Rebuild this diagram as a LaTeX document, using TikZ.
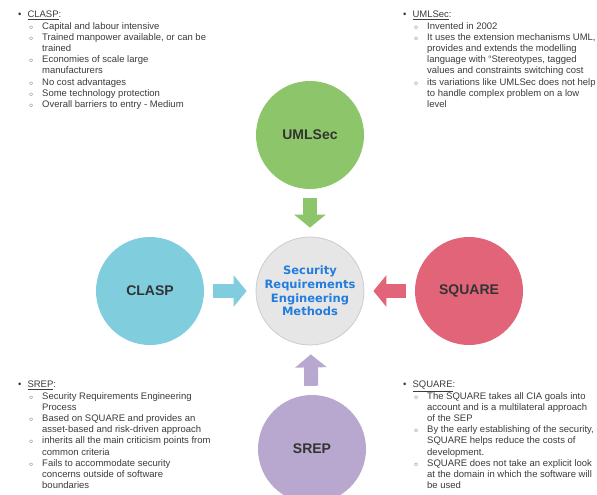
\documentclass[tikz,border=0pt]{standalone}
\usepackage{fontspec}
\setmainfont{Liberation Sans}
\newfontfamily\verdanafont{DejaVu Sans}
\usetikzlibrary{arrows.meta}

\definecolor{umlgreen}{RGB}{141,198,106}
\definecolor{claspblue}{RGB}{128,205,222}
\definecolor{squarered}{RGB}{226,100,120}
\definecolor{sreppurple}{RGB}{184,168,208}
\definecolor{hubgray}{RGB}{230,230,230}
\definecolor{hubtext}{RGB}{35,125,222}
\definecolor{notetext}{RGB}{60,60,60}

% bullets for the four notes
\newcommand{\topic}[1]{\textbullet\hspace{6pt}\underline{#1}:}
\newcommand{\subitm}{\\\hspace*{11pt}\makebox[13pt][l]{$\scriptstyle\circ$}}
\newcommand{\cont}{\\\hspace*{24pt}}

\begin{document}
\begin{tikzpicture}[x=1pt,y=-1pt,
    method/.style={circle, minimum size=108pt, inner sep=0pt,
        font=\fontsize{14}{16}\selectfont\bfseries, text=black!80},
    hub/.style={method, fill=hubgray, draw=black!20, line width=0.8pt,
        font=\verdanafont\fontsize{11.5}{13.8}\selectfont\bfseries, text=hubtext, align=center},
    note/.style={anchor=north west, inner sep=0pt, align=left, text=notetext,
        font=\fontsize{9.5}{11.2}\selectfont},
    blockarrow/.style={line width=14pt, -{Triangle[length=13pt,width=31pt]},
        shorten <=9pt, shorten >=9pt}]

\fill[white] (0,0) rectangle (597,495);
\useasboundingbox (0,0) rectangle (597,495);

% circles
\node[hub] (sre) at (310,291) {Security\\Requirements\\Engineering\\Methods};
\node[method, fill=umlgreen] (umlsec) at (310,135) {UMLSec};
\node[method, fill=claspblue] (clasp) at (150,291) {CLASP};
\node[method, fill=squarered] (square) at (469,291) {SQUARE};
\node[method, fill=sreppurple] (srep) at (312,449) {SREP};

% arrows into the hub
\draw[blockarrow, umlgreen] (umlsec) -- (sre);
\draw[blockarrow, claspblue] (clasp) -- (sre);
\draw[blockarrow, squarered] (square) -- (sre);
\draw[blockarrow, sreppurple] (srep) -- (sre);

% notes
\node[note] (claspnote) at (18,11) {\topic{CLASP}
    \subitm Capital and labour intensive
    \subitm Trained manpower available, or can be
    \cont trained
    \subitm Economies of scale large
    \cont manufacturers
    \subitm No cost advantages
    \subitm Some technology protection
    \subitm Overall barriers to entry - Medium};

\node[note] (umlnote) at (403,11) {\topic{UMLSec}
    \subitm Invented in 2002
    \subitm It uses the extension mechanisms UML,
    \cont provides and extends the modelling
    \cont language with ``Stereotypes, tagged
    \cont values and constraints switching cost
    \subitm its variations like UMLSec does not help
    \cont to handle complex problem on a low
    \cont level};

\node[note] (srepnote) at (18,381) {\topic{SREP}
    \subitm Security Requirements Engineering
    \cont Process
    \subitm Based on SQUARE and provides an
    \cont asset-based and risk-driven approach
    \subitm inherits all the main criticism points from
    \cont common criteria
    \subitm Fails to accommodate security
    \cont concerns outside of software
    \cont boundaries};

\node[note] (squarenote) at (403,381) {\topic{SQUARE}
    \subitm The SQUARE takes all CIA goals into
    \cont account and is a multilateral approach
    \cont of the SEP
    \subitm By the early establishing of the security,
    \cont SQUARE helps reduce the costs of
    \cont development.
    \subitm SQUARE does not take an explicit look
    \cont at the domain in which the software will
    \cont be used};
\end{tikzpicture}
\end{document}
